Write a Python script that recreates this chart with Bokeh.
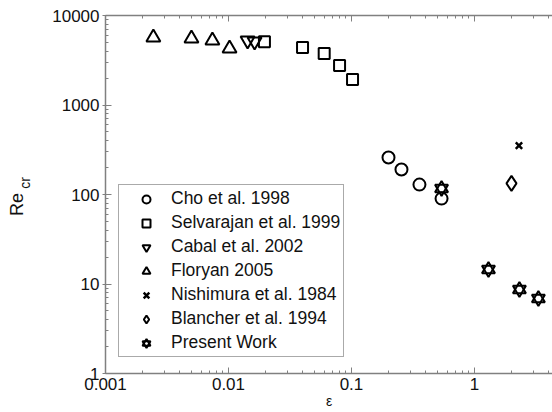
from bokeh.plotting import figure
from bokeh.models import (LogAxis, FixedTicker, Legend, LegendItem, Range1d)
from bokeh.embed import file_html
from bokeh.resources import INLINE

# ---------------- data ----------------
cho_x = [0.2, 0.255, 0.357, 0.54]
cho_y = [259, 190, 129, 90]

selv_x = [0.0196, 0.04, 0.06, 0.08, 0.102]
selv_y = [5100, 4390, 3760, 2760, 1930]

cabal_x = [0.0143, 0.0163]
cabal_y = [5260, 5120]

flor_x = [0.00245, 0.005, 0.0074, 0.0102]
flor_y = [5680, 5530, 5260, 4280]

nish_x = [2.3]
nish_y = [352]

blan_x = [2.0]
blan_y = [133]

pres_x = [0.54, 1.3, 2.32, 3.31]
pres_y = [117, 14.5, 8.7, 6.9]

x_major = [0.001, 0.01, 0.1, 1]
x_labels = ["0.001", "0.01", "0.1", "1"]
y_major = [1, 10, 100, 1000, 10000]
y_labels = ["1", "10", "100", "1000", "10000"]

x_minor = [k * 10.0 ** d for d in range(-3, 1) for k in range(2, 10)]
y_minor = [k * 10.0 ** d for d in range(0, 4) for k in range(2, 10)]

FONT = "Liberation Sans"
AX = "#808080"
NB = "\u00a0"

p = figure(width=552, height=412, x_axis_type="log", y_axis_type="log",
           x_range=Range1d(0.001, 4.31), y_range=Range1d(1, 10000),
           output_backend="svg", toolbar_location=None,
           min_border_left=105, min_border_right=0, min_border_top=15,
           min_border_bottom=39)
p.outline_line_color = None
p.xgrid.visible = False
p.ygrid.visible = False
p.background_fill_color = "white"


def style(ax, ticks, minor, labels):
    ax.ticker = FixedTicker(ticks=ticks, minor_ticks=minor)
    ax.major_label_overrides = {t: l for t, l in zip(ticks, labels)}
    ax.axis_line_color = AX
    ax.axis_line_width = 1.5
    ax.major_tick_line_color = AX
    ax.minor_tick_line_color = AX
    ax.major_tick_line_width = 1
    ax.minor_tick_line_width = 1
    ax.major_tick_in = 6
    ax.major_tick_out = 3
    ax.minor_tick_in = 3
    ax.minor_tick_out = 0
    ax.major_label_text_font = FONT
    ax.major_label_text_font_size = "17px"
    ax.major_label_text_color = "#111111"
    ax.axis_label_text_font = FONT
    ax.axis_label_text_font_style = "normal"
    ax.axis_label_text_color = "#111111"


# bottom axis with the epsilon title
xa = p.xaxis[0]
style(xa, x_major, x_minor, x_labels)
xa.major_tick_out = 0
xa.major_label_standoff = 4
xa.axis_label = "ε"
xa.axis_label_text_font_size = "14px"
xa.axis_label_standoff = 0

# left axis: ticks + subscript "cr"
ya = p.yaxis[0]
style(ya, y_major, y_minor, y_labels)
ya.major_label_standoff = 3
ya.axis_label = NB * 6 + "cr"
ya.axis_label_text_font_size = "14px"
ya.axis_label_standoff = 16

# outer left axis carrying only "Re"
ya2 = LogAxis()
ya2.ticker = FixedTicker(ticks=y_major, minor_ticks=[])
ya2.major_label_overrides = {t: "" for t in y_major}
ya2.axis_line_color = None
ya2.major_tick_line_color = None
ya2.minor_tick_line_color = None
ya2.major_tick_in = 0
ya2.major_tick_out = 0
ya2.major_label_standoff = 0
ya2.major_label_text_font_size = "0px"
ya2.axis_label = "Re" + NB * 4
ya2.axis_label_text_font = FONT
ya2.axis_label_text_font_size = "18px"
ya2.axis_label_text_font_style = "normal"
ya2.axis_label_text_color = "#111111"
ya2.axis_label_standoff = -12
p.add_layout(ya2, "left")

# top border with inward ticks
top = LogAxis()
style(top, x_major, x_minor, ["", "", "", ""])
top.major_tick_out = 0
top.major_label_standoff = 0
top.major_label_text_font_size = "0px"
p.add_layout(top, "above")

lw = 2
common = dict(fill_color=None, line_color="black", line_width=lw)
r_cho = p.scatter(cho_x, cho_y, marker="circle", size=12, **common)
r_selv = p.scatter(selv_x, selv_y, marker="square", size=11, **common)
r_cabal = p.scatter(cabal_x, cabal_y, marker="inverted_triangle", size=14, **common)
r_flor = p.scatter(flor_x, flor_y, marker="triangle", size=14, **common)
r_nish = p.scatter(nish_x, nish_y, marker="x", size=9, fill_color=None,
                   line_color="black", line_width=2.5)
r_blan = p.scatter(blan_x, blan_y, marker="diamond", size=15, **common)
r_pres1 = p.scatter(pres_x, pres_y, marker="triangle", size=13, **common)
r_pres2 = p.scatter(pres_x, pres_y, marker="inverted_triangle", size=13, **common)

legend = Legend(items=[
    LegendItem(label="Cho et al. 1998", renderers=[r_cho]),
    LegendItem(label="Selvarajan et al. 1999", renderers=[r_selv]),
    LegendItem(label="Cabal et al. 2002", renderers=[r_cabal]),
    LegendItem(label="Floryan 2005", renderers=[r_flor]),
    LegendItem(label="Nishimura et al. 1984", renderers=[r_nish]),
    LegendItem(label="Blancher et al. 1994", renderers=[r_blan]),
    LegendItem(label="Present Work", renderers=[r_pres1, r_pres2]),
], location=(13, 16))
legend.padding = 3
legend.margin = 0
legend.glyph_width = 48
legend.glyph_height = 20
legend.label_height = 20
legend.spacing = 3
legend.label_standoff = 1
legend.label_text_font = FONT
legend.label_text_font_size = "17.5px"
legend.label_text_color = "#111111"
legend.border_line_color = "#555555"
legend.border_line_width = 1
legend.background_fill_color = "white"
legend.background_fill_alpha = 1
p.add_layout(legend, "center")

open("out.html", "w").write(file_html(p, INLINE))
